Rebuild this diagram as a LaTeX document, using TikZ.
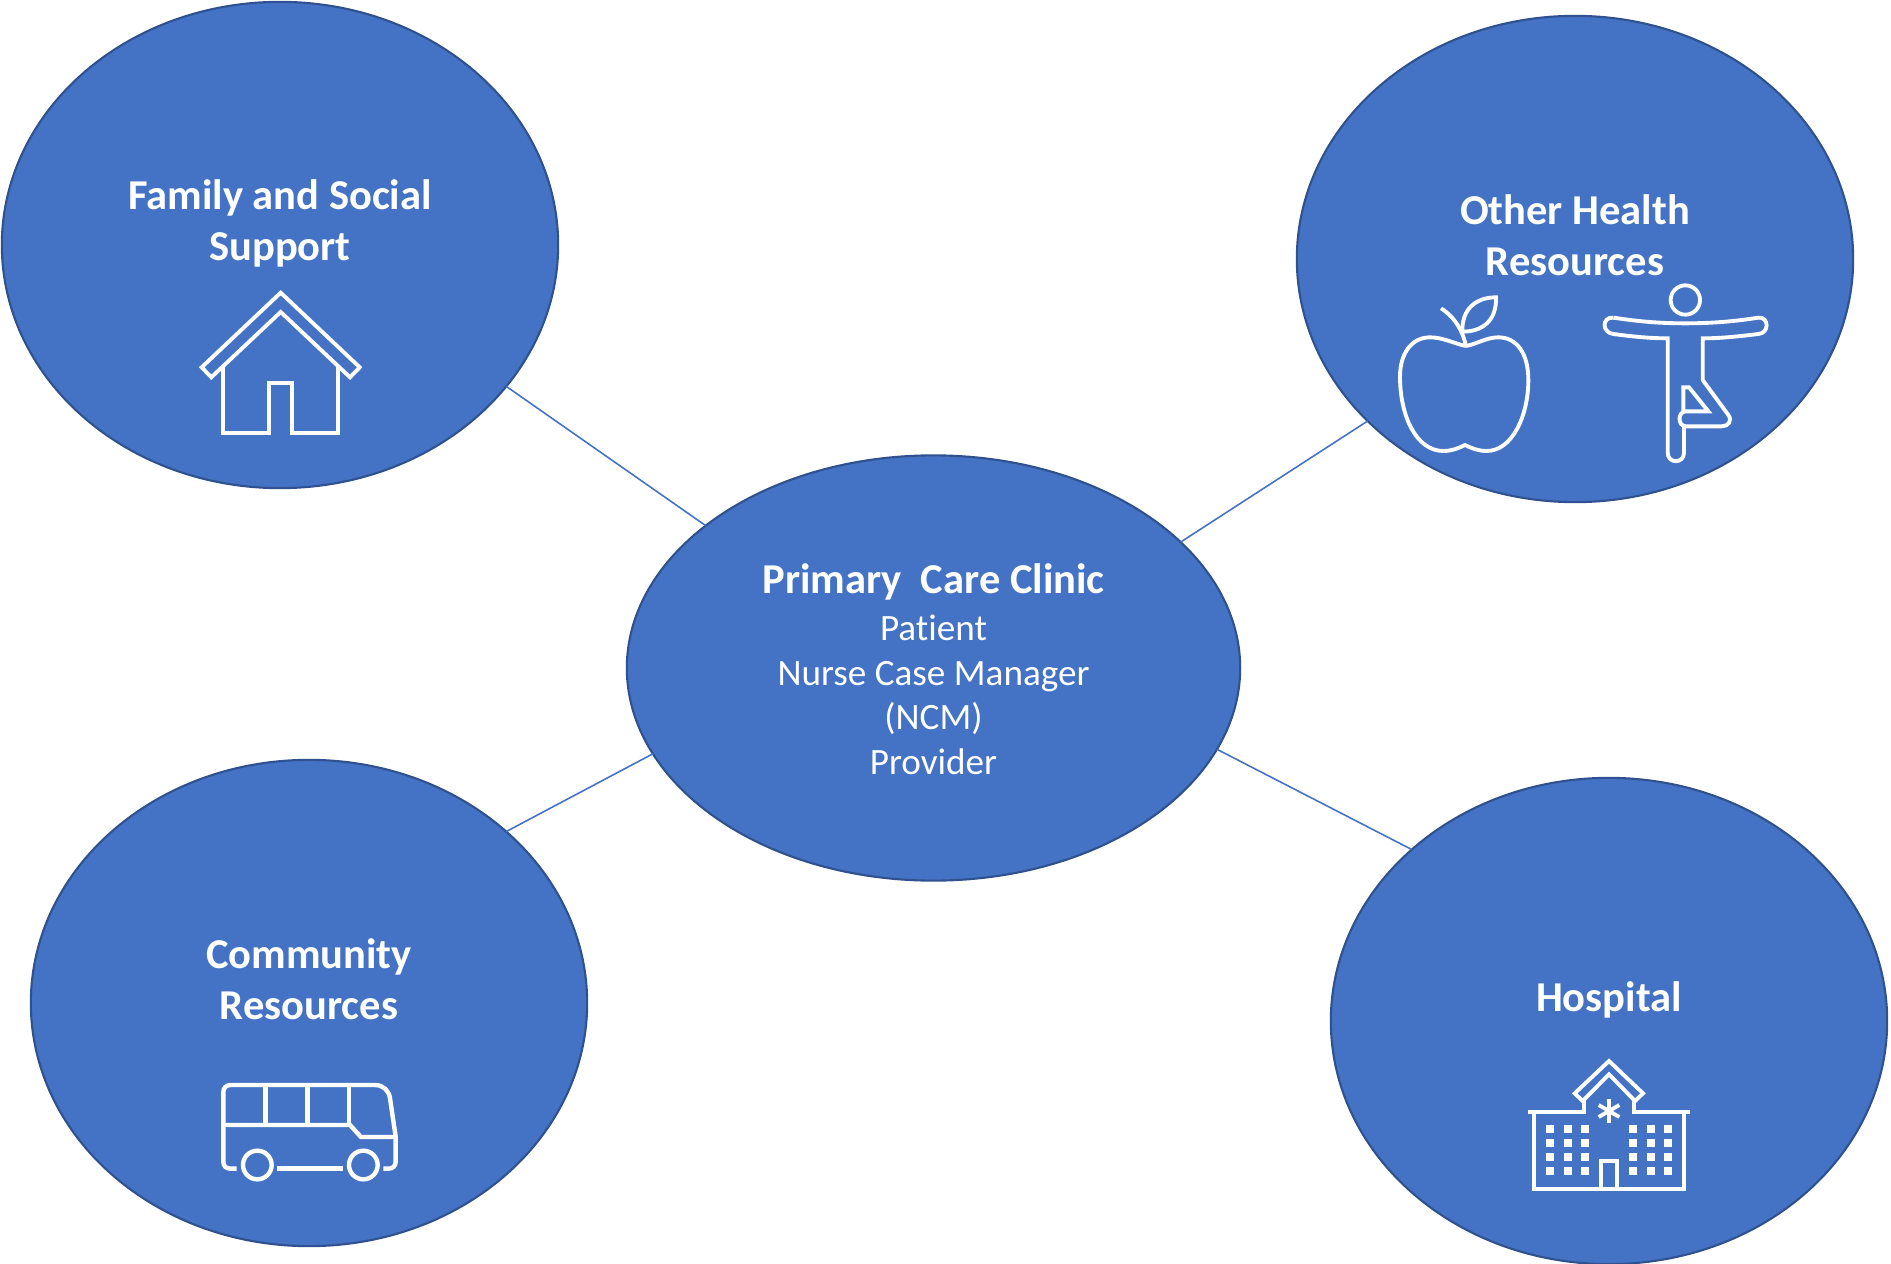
\documentclass[tikz,border=0pt]{standalone}
\usepackage{fontspec}
\setmainfont[Ligatures=NoCommon]{Carlito}
\usetikzlibrary{shapes.geometric}
\definecolor{bubblefill}{HTML}{4472C4}
\definecolor{bubbleline}{HTML}{2F528F}

\begin{document}
\begin{tikzpicture}[x=0.01cm,y=-0.01cm,
  bubble/.style={draw=bubbleline,fill=bubblefill,ellipse,line width=0.6pt,inner sep=0pt,outer sep=0pt,minimum width=5.56cm,minimum height=4.86cm},
  hub/.style={bubble,minimum width=6.13cm,minimum height=4.25cm},
  link/.style={draw=bubblefill,line width=0.45pt},
  title/.style={text=white,align=center,font=\fontsize{12.1}{14.5}\selectfont\bfseries},
  icon/.style={draw=white,line width=1.1pt,line join=miter},
  zoomed/.style={x=0.01cm/3,y=-0.01cm/3}]
\useasboundingbox (0,0) rectangle (1891,1264);

\node[bubble] (family) at (280,245) {};
\node[bubble] (health) at (1575,259) {};
\node[hub] (clinic) at (933.5,668) {};
\node[bubble] (community) at (309,1003) {};
\node[bubble] (hospital) at (1609,1021) {};

\draw[link] (family.-32.6) -- (clinic.148);
\draw[link] (health.218) -- (clinic.27);
\draw[link] (community.41.6) -- (clinic.197);
\draw[link] (hospital.139) -- (clinic.-16.5);

\node[title] (familytext) at (280,223.5) {Family and Social\\Support};
\node[title] (healthtext) at (1575,235) {Other Health\\Resources};
\node[title] (communitytext) at (309,979) {Community\\Resources};
\node[title] (hospitaltext) at (1609,1000) {Hospital};
\node[title] (clinictitle) at (933.5,582) {Primary\ \ Care Clinic};
\node[text=white,align=center,font=\fontsize{10.57}{12.7}\selectfont] (clinictext) at (933.5,695) {Patient\\Nurse Case Manager\\(NCM)\\Provider};

% house
\draw[icon] (201.7,367.3) -- (280.7,292.7) -- (359.7,367.3) -- (350,377.3) -- (280.7,312) -- (211.3,377.3) -- cycle;
\draw[icon] (222.7,366.7) |- (268.7,432.7) |- (292.3,383.3) |- (337.7,432.7) -- (337.7,366.7);

% apple and figure
\begin{scope}[shift={(1380,270)},zoomed]
\draw[icon] (258,228) .. controls (290,222) and (320,202) .. (355,202) .. controls (410,202) and (445,250) .. (445,330) .. controls (445,440) and (395,543) .. (320,543) .. controls (295,543) and (275,535) .. (255,525) .. controls (235,535) and (215,543) .. (190,543) .. controls (110,543) and (60,440) .. (60,320) .. controls (60,250) and (95,202) .. (150,202) .. controls (190,202) and (225,222) .. (258,228);
\draw[icon] (183,115) .. controls (215,135) and (245,170) .. (258,228);
\draw[icon] (348,82) .. controls (290,82) and (245,115) .. (247,185) .. controls (310,185) and (350,150) .. (348,82) -- cycle;
\draw[icon] (916,90) circle (44*0.01cm/3);
\draw[icon] (700,143) .. controls (780,155) and (840,160) .. (916,160) .. controls (990,160) and (1060,155) .. (1135,143) .. controls (1168,140) and (1168,190) .. (1135,192) .. controls (1070,200) and (1020,205) .. (968,205) -- (968,330) -- (1045,435) .. controls (1058,452) and (1045,469) .. (1025,469) -- (918,469) .. controls (892,469) and (892,424) .. (918,424) -- (985,424) -- (927,352) -- (910,352) -- (910,424);
\draw[icon] (912,469) -- (912,548) .. controls (912,582) and (863,582) .. (863,548) -- (863,205) .. controls (810,205) and (760,200) .. (700,192) .. controls (665,188) and (665,140) .. (700,143);
\end{scope}

% bus
\begin{scope}[shift={(200,1060)},zoomed]
\begin{scope}[icon/.append style={line width=1.25pt}]
\draw[icon] (110,326) -- (92,326) .. controls (78,326) and (70,318) .. (70,305) -- (70,97) .. controls (70,84) and (78,75) .. (92,75) -- (525,75) .. controls (550,75) and (567,92) .. (570,115) -- (587,230) -- (587,305) .. controls (587,318) and (578,326) .. (565,326) -- (550,326);
\draw[icon] (232,326) -- (430,326);
\draw[icon] (172,315) circle (43*0.01cm/3);
\draw[icon] (490,315) circle (43*0.01cm/3);
\draw[icon] (70,195) -- (450,195) -- (483,231) -- (587,231);
\foreach \xpos in {197,322,447} {
  \draw[icon] (\xpos,75) -- (\xpos,195);
}
\end{scope}
\end{scope}

% hospital
\begin{scope}[shift={(1510,1045)},zoomed]
\draw[icon] (297,48) -- (399,145) -- (375,168) -- (297,88) -- (218,168) -- (194,145) -- cycle;
\draw[icon] (55,200) -- (222,200) -- (222,165);
\draw[icon] (372,165) -- (372,200) -- (540,200);
\draw[icon] (72,200) -- (72,432) -- (522,432) -- (522,200);
\draw[icon] (272,432) -- (272,347) -- (322,347) -- (322,432);
\draw[icon] (297,163) -- (297,235);
\draw[icon] (266,180) -- (328,216);
\draw[icon] (266,216) -- (328,180);
\foreach \xpos in {120,174,225,369,423,474} {
  \foreach \ypos in {252,294,336,378} {
    \fill[white] (\xpos-12,\ypos-12) rectangle (\xpos+12,\ypos+12);
  }
}
\end{scope}
\end{tikzpicture}
\end{document}
